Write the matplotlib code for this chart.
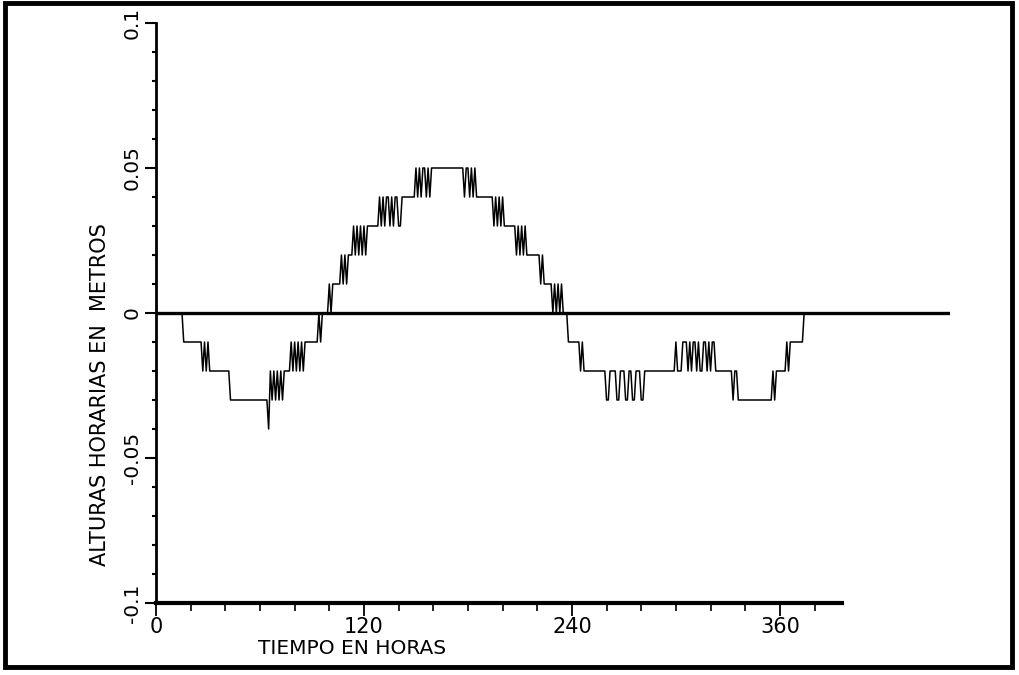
import numpy as np
import matplotlib.pyplot as plt
from matplotlib.patches import Rectangle

plt.rcParams['font.family'] = ['DejaVu Sans']

# alturas horarias en cm, una por hora a partir de la hora 15
hora_inicial = 15
alturas_cm = [
    0, -1, -1, -1, -1, -1, -1, -1, -1, -1, -1, -1,
    -2, -1, -2, -1, -2, -2, -2, -2, -2, -2, -2, -2,
    -2, -2, -2, -2, -3, -3, -3, -3, -3, -3, -3, -3,
    -3, -3, -3, -3, -3, -3, -3, -3, -3, -3, -3, -3,
    -3, -3, -4, -2, -3, -2, -3, -2, -3, -2, -3, -2,
    -2, -2, -2, -1, -2, -1, -2, -1, -2, -1, -2, -1,
    -1, -1, -1, -1, -1, -1, -1, 0, -1, 0, 0, 0,
    0, 1, 0, 1, 1, 1, 1, 1, 2, 1, 2, 1,
    2, 2, 2, 3, 2, 3, 2, 3, 2, 3, 2, 3,
    3, 3, 3, 3, 3, 3, 4, 3, 4, 3, 4, 4,
    3, 4, 3, 4, 4, 3, 3, 4, 4, 4, 4, 4,
    4, 4, 4, 5, 4, 5, 4, 5, 5, 4, 5, 4,
    5, 5, 5, 5, 5, 5, 5, 5, 5, 5, 5, 5,
    5, 5, 5, 5, 5, 5, 5, 4, 5, 5, 4, 5,
    4, 5, 4, 4, 4, 4, 4, 4, 4, 4, 4, 4,
    3, 4, 3, 4, 3, 4, 3, 3, 3, 3, 3, 3,
    3, 2, 3, 2, 3, 2, 3, 2, 2, 2, 2, 2,
    2, 2, 2, 1, 2, 1, 1, 1, 1, 1, 0, 1,
    0, 1, 0, 1, 0, 0, 0, -1, -1, -1, -1, -1,
    -1, -1, -2, -1, -2, -2, -2, -2, -2, -2, -2, -2,
    -2, -2, -2, -2, -2, -3, -3, -2, -2, -2, -2, -3,
    -3, -2, -2, -2, -3, -3, -2, -2, -3, -3, -2, -2,
    -2, -3, -3, -2, -2, -2, -2, -2, -2, -2, -2, -2,
    -2, -2, -2, -2, -2, -2, -2, -2, -2, -1, -2, -2,
    -2, -1, -1, -1, -2, -1, -2, -1, -1, -2, -1, -2,
    -2, -1, -1, -2, -1, -2, -1, -1, -2, -2, -2, -2,
    -2, -2, -2, -2, -2, -2, -3, -2, -2, -3, -3, -3,
    -3, -3, -3, -3, -3, -3, -3, -3, -3, -3, -3, -3,
    -3, -3, -3, -3, -3, -2, -3, -2, -2, -2, -2, -2,
    -2, -1, -2, -1, -1, -1, -1, -1, -1, -1, -1, 0,
]
horas = hora_inicial + np.arange(len(alturas_cm))
alturas = np.array(alturas_cm) / 100.0

xticks_major = [0, 120, 240, 360]
xticks_minor = [20, 40, 60, 80, 100, 140, 160, 180, 200, 220, 260, 280, 300, 320, 340, 380]
yticks_major = [-0.1, -0.05, 0, 0.05, 0.1]
ytick_labels = ['-0.1', '-0.05', '0', '0.05', '0.1']

W, H = 1019, 675
fig = plt.figure(figsize=(W / 100, H / 100), dpi=100)

# ejes: x=0 en px 156, y=0.1 en px 23, y=-0.1 en px 603
x0_px, x1_px = 156, 950
y_top, y_bot = 23, 603
ax = fig.add_axes([x0_px / W, 1 - y_bot / H, (x1_px - x0_px) / W, (y_bot - y_top) / H])
xmax = (x1_px - x0_px) / 1.733
ax.set_xlim(0, xmax)
ax.set_ylim(-0.1, 0.1)

ax.axhline(0, color='black', lw=2.4, zorder=3)
ax.plot(horas, alturas, color='black', lw=1.1, zorder=4)

for s in ['top', 'right']:
    ax.spines[s].set_visible(False)
ax.spines['bottom'].set_bounds(0, 396)
ax.spines['bottom'].set_linewidth(3)
ax.spines['left'].set_linewidth(2)

ax.set_xticks(xticks_major)
ax.set_xticks(xticks_minor, minor=True)
ax.set_xticklabels([str(v) for v in xticks_major])
ax.set_yticks(yticks_major)
ax.set_yticks(np.arange(-0.09, 0.1, 0.01), minor=True)
ax.set_yticklabels(ytick_labels, rotation=90, va='center')

ax.tick_params(axis='x', which='major', direction='out', length=9, width=1.3, labelsize=15, pad=1)
ax.tick_params(axis='x', which='minor', direction='out', length=6, width=1.2)
ax.tick_params(axis='y', which='major', direction='out', length=8, width=1.5, labelsize=14.5, pad=2)
ax.tick_params(axis='y', which='minor', direction='out', length=3, width=1.5)

fig.text(100 / W, 1 - 395 / H, 'ALTURAS HORARIAS EN  METROS', rotation=90,
         ha='center', va='center', fontsize=15)
fig.text(352 / W, 1 - 648 / H, 'TIEMPO EN HORAS', ha='center', va='center', fontsize=14.5)

# marco de la figura
fig.patches.append(Rectangle((5 / W, 1 - 667 / H), 1007 / W, 664 / H, transform=fig.transFigure,
                             fill=False, edgecolor='black', lw=3.5))

fig.savefig('out.png', dpi=100)
